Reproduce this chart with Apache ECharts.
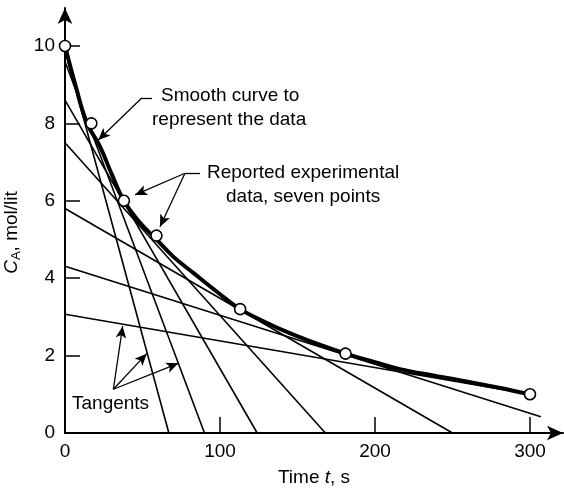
<!DOCTYPE html>
<html>
<head>
<meta charset="utf-8">
<script src="https://cdn.jsdelivr.net/npm/echarts@6/dist/echarts.min.js"></script>
<style>
  html, body { margin: 0; padding: 0; background: #fff; }
  #chart { width: 564px; height: 492px; }
</style>
</head>
<body>
<div id="chart"></div>
<script>
// 实验数据点 (t, CA)
var timePts = [0, 17, 38, 59, 113, 181, 300];
var concPts = [10, 8, 6, 5.1, 3.2, 2.05, 1.0];

// 光滑曲线
var curveT = [0, 7, 14.2, 22.6, 30, 38, 48, 59, 70, 83, 98, 113, 130, 145, 163, 181, 200, 216, 240, 259, 280, 300];
var curveC = [10, 8.95, 8.0, 7.4, 6.7, 6.0, 5.45, 5.0, 4.55, 4.13, 3.65, 3.2, 2.85, 2.58, 2.3, 2.05, 1.83, 1.65, 1.47, 1.33, 1.17, 1.0];

// 切线: 起点和终点
var tanStartT = [0, 0, 0, 0, 0, 0, 0];
var tanStartC = [9.9, 9.6, 8.6, 7.5, 5.8, 4.31, 3.07];
var tanEndT = [67, 90, 124, 168, 250, 307, 300];
var tanEndC = [0, 0, 0, 0, 0, 0.42, 1.0];

// 刻度
var xTicks = [0, 100, 200, 300];
var yTicks = [0, 2, 4, 6, 8, 10];

// 标注箭头 [起点, 终点]
var leaderLines = [
    [[56.1, 8.66], [49.7, 8.66]],
    [[87.1, 6.71], [77.4, 6.71]]
];
var arrowLines = [
    [[49.7, 8.66], [21.5, 7.57]],
    [[77.4, 6.71], [45.2, 6.15]],
    [[77.4, 6.71], [61.3, 5.33]],
    [[31.2, 1.13], [37.2, 2.76]],
    [[31.2, 1.13], [52.7, 2.05]],
    [[31.2, 1.13], [73.1, 1.80]]
];

var FONT = '"Liberation Sans", Arial, sans-serif';

var myChart = echarts.init(document.getElementById('chart'));

var series = [];
// 切线
tanStartT.forEach(function (t, i) {
    series.push({
        type: 'line',
        data: [[t, tanStartC[i]], [tanEndT[i], tanEndC[i]]],
        symbol: 'none',
        lineStyle: { color: '#000', width: 1.6 },
        silent: true,
        z: 2
    });
});
// 光滑曲线
series.push({
    type: 'line',
    data: curveT.map(function (t, i) { return [t, curveC[i]]; }),
    smooth: 0.4,
    symbol: 'none',
    lineStyle: { color: '#000', width: 4 },
    silent: true,
    z: 3
});

var markData = [];
leaderLines.forEach(function (l) {
    markData.push([{ coord: l[0], symbol: 'none' }, { coord: l[1], symbol: 'none' }]);
});
arrowLines.forEach(function (l) {
    markData.push([{ coord: l[0], symbol: 'none' }, { coord: l[1], symbol: 'arrow' }]);
});

// 数据点
series.push({
    type: 'scatter',
    data: timePts.map(function (t, i) { return [t, concPts[i]]; }),
    symbol: 'circle',
    symbolSize: 11,
    itemStyle: { color: '#fff', borderColor: '#000', borderWidth: 1.6, opacity: 1 },
    z: 5,
    markLine: {
        silent: true,
        animation: false,
        symbolSize: [8, 12],
        label: { show: false },
        lineStyle: { color: '#000', width: 1.3, type: 'solid' },
        emphasis: { disabled: true },
        data: markData
    }
});

var option = {
    backgroundColor: '#fff',
    animation: false,
    grid: { left: 65, right: 1, top: 8, bottom: 59, containLabel: false, outerBoundsMode: 'none' },
    xAxis: {
        type: 'value',
        min: 0,
        max: 321.3,
        name: '{n|Time }{i|t}{n|, s}',
        nameLocation: 'middle',
        nameGap: 35,
        nameTextStyle: {
            rich: {
                n: { fontSize: 19, fontFamily: FONT, color: '#000' },
                i: { fontSize: 19, fontFamily: FONT, color: '#000', fontStyle: 'italic' }
            }
        },
        axisLine: {
            symbol: ['none', 'arrow'],
            symbolSize: [11, 16],
            lineStyle: { color: '#000', width: 2 }
        },
        axisTick: { inside: true, length: 16, customValues: [100, 200, 300], lineStyle: { color: '#000', width: 1.5 } },
        axisLabel: { customValues: xTicks, fontSize: 19, fontFamily: FONT, color: '#000', margin: 9 },
        splitLine: { show: false }
    },
    yAxis: {
        type: 'value',
        min: 0,
        max: 10.98,
        name: '{i|C}{s|A}{n|, mol/lit}',
        nameLocation: 'middle',
        nameRotate: 90,
        nameGap: 25,
        nameTextStyle: {
            padding: [0, 24, 0, 0],
            rich: {
                n: { fontSize: 19, fontFamily: FONT, color: '#000' },
                i: { fontSize: 19, fontFamily: FONT, color: '#000', fontStyle: 'italic' },
                s: { fontSize: 13, fontFamily: FONT, color: '#000', padding: [9, 0, 0, 0] }
            }
        },
        axisLine: {
            symbol: ['none', 'arrow'],
            symbolSize: [11, 16],
            lineStyle: { color: '#000', width: 2 }
        },
        axisTick: { inside: true, length: 15, customValues: [2, 4, 6, 8, 10], lineStyle: { color: '#000', width: 1.5 } },
        axisLabel: { customValues: yTicks, fontSize: 19, fontFamily: FONT, color: '#000', margin: 10 },
        splitLine: { show: false }
    },
    graphic: [
        { type: 'text', left: 161, top: 86, style: { text: 'Smooth curve to', fontSize: 19, fontFamily: FONT, fill: '#000' } },
        { type: 'text', left: 152, top: 110, style: { text: 'represent the data', fontSize: 19, fontFamily: FONT, fill: '#000' } },
        { type: 'text', left: 207, top: 163, style: { text: 'Reported experimental', fontSize: 19, fontFamily: FONT, fill: '#000' } },
        { type: 'text', left: 226, top: 187, style: { text: 'data, seven points', fontSize: 19, fontFamily: FONT, fill: '#000' } },
        { type: 'text', left: 72, top: 394, style: { text: 'Tangents', fontSize: 19, fontFamily: FONT, fill: '#000' } }
    ],
    series: series
};

myChart.setOption(option);

window.addEventListener('resize', function () {
    myChart.resize();
});
</script>
</body>
</html>
